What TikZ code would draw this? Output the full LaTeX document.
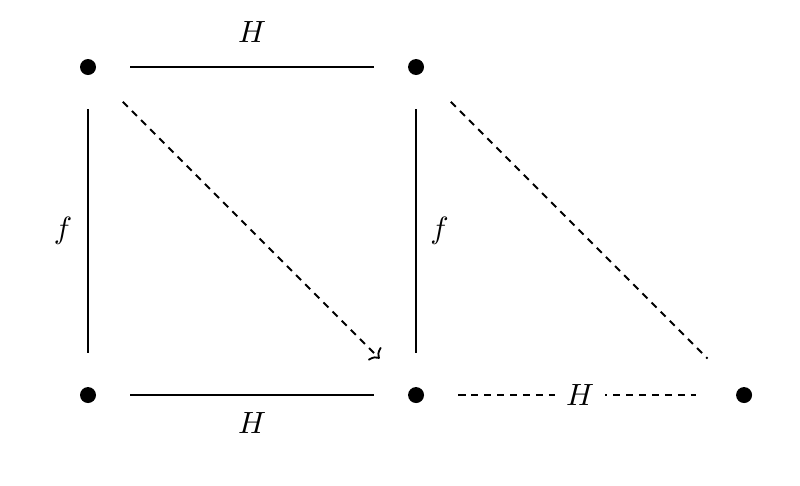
\documentclass[tikz,border=0pt]{standalone}
\usetikzlibrary{arrows,arrows.meta,calc,positioning}
\tikzset{
dot/.style={circle,fill=black,inner sep=0pt,minimum size=5.2pt},
link/.style={line width=0.6pt,shorten >=11pt,shorten <=11pt},
dlink/.style={link,dash pattern=on 2.3pt off 1.9pt},
slant/.style={dlink,shorten >=14pt,shorten <=13.2pt}
}
\begin{document}
\begin{tikzpicture}
\useasboundingbox (-1.007,-1.030) rectangle (8.146,4.520);
\draw (0,3.753) node (tl) [dot] {};
\draw (3.753,3.753) node (tm) [dot] {};
\draw (0,0) node (bl) [dot] {};
\draw (3.753,0) node (bm) [dot] {};
\draw (7.506,0) node (br) [dot] {};
\draw[link] (tl)--(tm) node[midway,above=4.5pt] {$H$};
\draw[link] (bl)--(bm) node[midway,below=1.9pt] {$H$};
\draw[link] (tl)--(bl) node[midway,left=1.5pt] {$f$};
\draw[link] (tm)--(bm) node[midway,right=1pt] {$f$};
\draw[slant,-{To[width=6pt,length=2.5pt]}] (tl)--(bm);
\draw[slant] (tm)--(br);
\draw[dlink,shorten >=12.8pt] (bm)--(br) node[midway,fill=white,inner sep=3.5pt] {$H$};
\end{tikzpicture}
\end{document}
